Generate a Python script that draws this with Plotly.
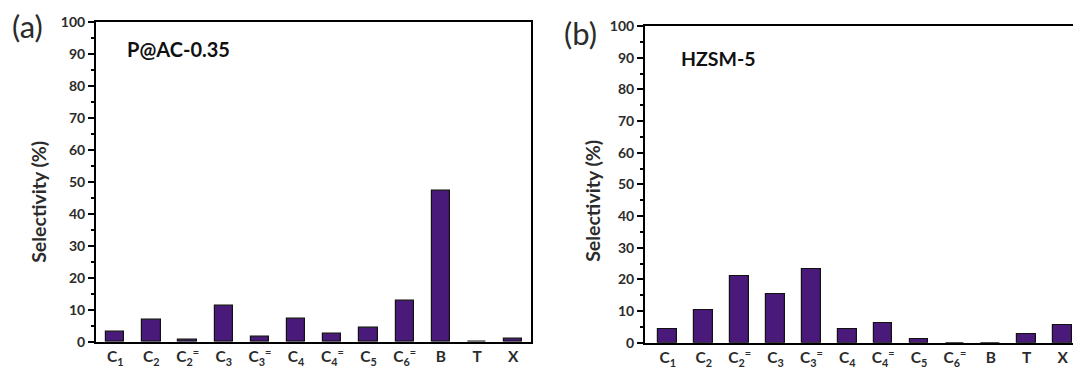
import plotly.graph_objects as go

categories = ["C<sub>1</sub>", "C<sub>2</sub>", "C<sub>2</sub><sup>=</sup>", "C<sub>3</sub>",
              "C<sub>3</sub><sup>=</sup>", "C<sub>4</sub>", "C<sub>4</sub><sup>=</sup>",
              "C<sub>5</sub>", "C<sub>6</sub><sup>=</sup>", "B", "T", "X"]
pac_values = [3.0, 6.9, 0.6, 11.3, 1.7, 7.3, 2.6, 4.5, 12.9, 47.3, 0.0, 1.0]
hzsm_values = [4.2, 10.3, 21.0, 15.4, 23.4, 4.2, 6.3, 1.0, 0.0, 0.0, 2.6, 5.5]
ytick_vals = [0, 10, 20, 30, 40, 50, 60, 70, 80, 90, 100]

W, H = 1073, 374
BAR = "#4a1a7a"
FONT = "Lato"
TXT = "#2b2b2b"

x_idx = list(range(len(categories)))

fig = go.Figure()
fig.add_trace(go.Bar(x=x_idx, y=pac_values, width=0.505, marker=dict(color=BAR, line=dict(color="#111", width=1.2)),
                     xaxis="x", yaxis="y", showlegend=False))
fig.add_trace(go.Bar(x=x_idx, y=hzsm_values, width=0.52, marker=dict(color=BAR, line=dict(color="#111", width=1.2)),
                     xaxis="x2", yaxis="y2", showlegend=False))

def px_x(p):
    return p / W

def px_y(p):
    return 1 - p / H

tickfont = dict(family=FONT, size=14, color=TXT, weight="bold")

common_x = dict(tickmode="array", tickvals=x_idx, ticktext=categories, ticks="",
                showline=True, linecolor="black", linewidth=2, showgrid=False, zeroline=False,
                layer="above traces",
                tickfont=dict(family=FONT, size=15.5, color=TXT, weight="bold"))
common_y = dict(range=[0, 100], tickmode="array", tickvals=ytick_vals, ticks="outside", ticklen=6,
                tickwidth=1.5, tickcolor="black", showline=True, linecolor="black", linewidth=2,
                showgrid=False, zeroline=False, tickfont=tickfont, layer="above traces",
                minor=dict(tickvals=[v + 5 for v in ytick_vals[:-1]], ticks="outside", ticklen=3,
                           tickwidth=1.5, tickcolor="black"))

fig.update_layout(
    width=W, height=H, margin=dict(l=0, r=0, t=0, b=0),
    paper_bgcolor="white", plot_bgcolor="white", bargap=0,
    xaxis=dict(domain=[px_x(96), px_x(531)], range=[-0.53, 11.49], anchor="y", mirror=True, **common_x),
    yaxis=dict(domain=[px_y(348.6), px_y(13.4)], anchor="x", mirror=True, **common_y),
    xaxis2=dict(domain=[px_x(645), 1.0], range=[-0.635, 11.29], anchor="y2", mirror=True, **common_x),
    yaxis2=dict(domain=[px_y(349.6), px_y(17.9)], anchor="x2", mirror=False, **common_y),
)

annots = [
    dict(text="(a)", x=px_x(27), y=px_y(18), font=dict(family=FONT, size=31, color=TXT)),
    dict(text="(b)", x=px_x(580), y=px_y(25), font=dict(family=FONT, size=31, color=TXT)),
    dict(text="<b>P@AC-0.35</b>", x=px_x(178), y=px_y(42), font=dict(family=FONT, size=20, color="#111")),
    dict(text="<b>HZSM-5</b>", x=px_x(718), y=px_y(52), font=dict(family=FONT, size=19.5, color="#111")),
    dict(text="<b>Selectivity (%)</b>", x=px_x(39), y=px_y(202), textangle=-90,
         font=dict(family=FONT, size=19.5, color=TXT)),
    dict(text="<b>Selectivity (%)</b>", x=px_x(593), y=px_y(201), textangle=-90,
         font=dict(family=FONT, size=19.5, color=TXT)),
]
for a in annots:
    fig.add_annotation(xref="paper", yref="paper", showarrow=False, xanchor="center", yanchor="middle", **a)

fig.write_html("out.html", config={"displayModeBar": False},
               post_script="document.body.style.margin='0';")
